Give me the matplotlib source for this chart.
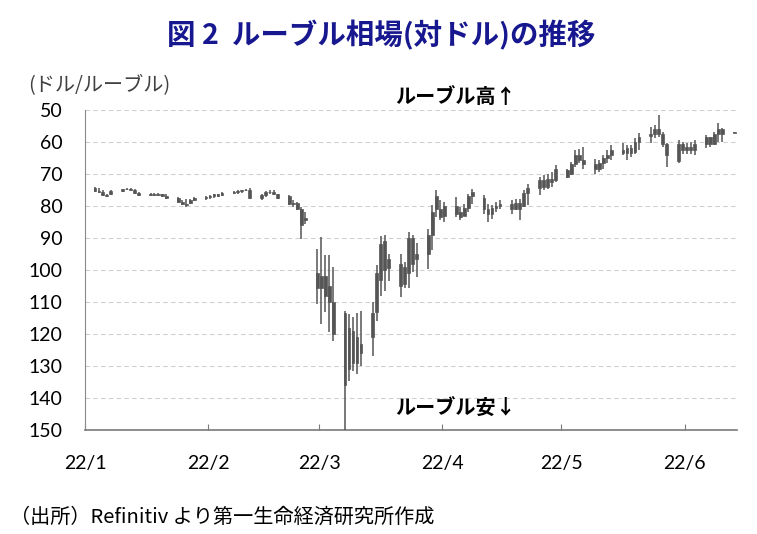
import matplotlib
matplotlib.use("Agg")
import matplotlib.pyplot as plt
import matplotlib.dates as mdates
import numpy as np
import pandas as pd

plt.rcParams['font.family'] = ['Noto Sans CJK JP', 'DejaVu Sans']

# 営業日 2022/1/3 - 2022/6/13 (週ごとに5本)
days = pd.bdate_range("2022-01-03", "2022-06-13")

# ドル/ルーブル 日足 (安値・高値・始値・終値)
low = [74.1, 74.4, 75.1, 76.1, 75.1,  74.6, 74.4, 74.4, 74.6, 75.6,
       75.8, 75.9, 75.9, 76.1, 76.4,  77.3, 78.2, 77.9, 77.7, 77.2,
       76.8, 76.6, 76.1, 76.1, 75.6,  75.3, 75.1, 74.9, 74.6, 74.4,
       76.1, 75.3, 75.1, 75.1, 76.1,  76.6, 78.2, 78.7, 80.3, 81.9,
       93.3, 89.7, 95.4, 95.4, 99.0,  112.7, 113.7, 114.8, 113.3, 112.7,
       110.1, 98.5, 89.5, 89.1, 94.9,  95.0, 97.5, 88.1, 89.1, 91.5,
       87.1, 79.8, 75.1, 78.2, 78.7,  77.2, 80.3, 79.3, 76.2, 74.6,
       76.7, 79.3, 79.8, 78.8, 78.2,  78.2, 77.7, 77.7, 75.1, 73.0,
       70.9, 70.4, 69.9, 69.4, 67.3,  68.3, 66.2, 62.6, 62.1, 61.5,
       65.2, 65.7, 64.1, 62.5, 61.0,  60.4, 61.0, 61.0, 58.9, 57.3,
       55.2, 54.7, 51.6, 56.8, 60.4,  59.4, 59.9, 60.4, 59.9, 59.4,
       57.8, 58.4, 56.8, 54.2, 55.7,  56.8]
high = [75.5, 75.9, 76.9, 77.3, 76.5,  75.6, 75.1, 75.3, 76.1, 76.9,
        76.8, 76.8, 76.8, 77.1, 77.9,  79.1, 79.8, 80.3, 79.3, 78.5,
        78.2, 77.9, 77.4, 77.1, 76.8,  76.3, 76.1, 75.9, 75.4, 77.9,
        78.2, 77.1, 76.1, 76.5, 77.9,  79.8, 80.3, 81.4, 90.2, 85.5,
        110.6, 116.9, 113.0, 119.5, 122.1,  150.5, 134.7, 131.5, 132.5, 130.0,
        127.0, 116.0, 108.0, 106.5, 103.3,  108.5, 105.5, 105.7, 100.5, 102.2,
        99.6, 93.9, 83.4, 84.5, 85.0,  83.4, 84.5, 83.0, 81.9, 79.3,
        82.4, 85.0, 84.0, 81.9, 80.8,  82.4, 81.4, 84.5, 80.3, 79.8,
        76.7, 75.1, 74.6, 74.1, 72.5,  71.4, 70.4, 67.8, 66.7, 68.3,
        69.9, 69.3, 68.3, 66.7, 65.7,  64.1, 65.7, 64.6, 63.6, 62.5,
        60.4, 58.9, 58.4, 61.5, 67.8,  66.7, 63.6, 63.6, 63.6, 64.1,
        62.0, 61.5, 61.0, 59.9, 59.9,  57.3]
open_ = [74.4, 75.2, 75.6, 76.6, 76.4,  75.4, 74.8, 74.6, 75.0, 75.9,
         76.5, 76.2, 76.6, 76.2, 76.8,  77.6, 78.9, 79.4, 79.2, 78.1,
         77.6, 77.3, 76.9, 76.4, 76.6,  75.9, 75.6, 75.3, 75.1, 74.9,
         77.4, 76.6, 75.7, 75.5, 76.2,  77.0, 79.4, 79.0, 80.8, 84.5,
         101.0, 105.5, 102.0, 105.0, 110.0,  113.5, 131.0, 119.0, 129.0, 123.0,
         121.0, 113.0, 103.0, 91.0, 99.5,  98.0, 104.5, 101.0, 90.0, 96.5,
         95.0, 89.0, 77.0, 81.0, 83.0,  80.0, 82.0, 83.0, 80.5, 77.0,
         77.5, 81.0, 82.5, 80.5, 80.0,  79.5, 81.0, 79.0, 80.0, 76.0,
         74.5, 72.0, 74.0, 71.5, 72.0,  68.8, 70.0, 67.0, 64.0, 65.5,
         67.0, 68.5, 66.5, 65.0, 64.0,  62.5, 63.5, 62.0, 63.0, 60.0,
         58.0, 57.5, 56.0, 57.5, 60.5,  66.0, 60.5, 62.5, 61.5, 62.5,
         60.5, 58.5, 60.5, 57.5, 56.0,  56.9]
close = [75.2, 75.6, 76.6, 76.9, 75.4,  74.8, 74.6, 75.0, 75.9, 76.5,
         76.2, 76.6, 76.2, 76.8, 77.6,  78.9, 79.4, 79.6, 78.1, 77.6,
         77.3, 76.9, 76.4, 76.8, 75.9,  75.6, 75.3, 75.1, 74.9, 77.4,
         76.6, 75.7, 75.5, 76.2, 77.5,  79.4, 79.0, 80.8, 86.0, 83.6,
         105.5, 102.0, 108.0, 110.0, 120.0,  136.0, 118.0, 129.0, 121.0, 126.0,
         113.5, 101.0, 92.0, 100.0, 96.5,  105.0, 99.0, 90.0, 98.0, 95.0,
         89.0, 82.0, 81.0, 83.5, 80.0,  82.5, 83.5, 80.5, 77.0, 75.5,
         81.0, 82.5, 80.5, 80.0, 79.5,  81.0, 79.0, 81.0, 76.0, 74.5,
         72.0, 74.0, 71.5, 72.5, 68.5,  70.8, 67.0, 64.0, 65.5, 67.0,
         68.5, 66.5, 65.0, 64.0, 62.5,  63.5, 62.0, 63.5, 60.0, 58.5,
         57.5, 56.0, 57.5, 60.5, 64.0,  60.5, 62.5, 61.5, 62.5, 60.5,
         58.5, 60.5, 57.5, 56.0, 57.5,  57.2]

month_ticks = ["2022-01-01", "2022-02-01", "2022-03-01", "2022-04-01", "2022-05-01", "2022-06-01"]
month_labels = ["22/1", "22/2", "22/3", "22/4", "22/5", "22/6"]
y_ticks = list(range(50, 151, 10))

bar_color = "#555555"

fig = plt.figure(figsize=(7.57, 5.34), dpi=100)
ax = fig.add_axes([85 / 757, 1 - 430 / 534, (737 - 85) / 757, (430 - 110) / 534])

x = mdates.date2num(days) + 0.5
o = np.array(open_)
c = np.array(close)
ax.vlines(x, low, high, color=bar_color, lw=1.1, zorder=3)
ax.bar(x, np.abs(c - o), bottom=np.minimum(o, c), width=0.7,
       color=bar_color, edgecolor=bar_color, linewidth=0.5, zorder=3)

# 軸
ax.set_ylim(150, 50)
ax.set_yticks(y_ticks)
ax.set_xlim(mdates.date2num(pd.Timestamp("2022-01-01")),
            mdates.date2num(pd.Timestamp("2022-01-01")) + 164.2)
ax.set_xticks(mdates.date2num(pd.to_datetime(month_ticks)))
ax.set_xticklabels(month_labels)

ax.yaxis.grid(True, ls=(0, (4, 3)), color="#d0d0d0", lw=0.8)
ax.set_axisbelow(True)
for s in ["top", "right"]:
    ax.spines[s].set_visible(False)
ax.spines["left"].set_color("#8a8a8a")
ax.spines["left"].set_linewidth(0.8)
ax.spines["bottom"].set_color("#7a7a7a")
ax.spines["bottom"].set_linewidth(1.2)

ax.tick_params(axis="y", length=0, pad=16, labelsize=14, labelfontfamily="Lato")
ax.tick_params(axis="x", direction="in", length=4, color="#7a7a7a", pad=18,
               labelsize=14, labelfontfamily="Lato")

# テキスト
fig.text(381 / 757, 1 - 35 / 534, "図 2  ルーブル相場(対ドル)の推移", ha="center", va="center",
         fontsize=20.5, fontweight="bold", color="#17178f")
fig.text(28 / 757, 1 - 85 / 534, "(ドル/ルーブル)", ha="left", va="center",
         fontsize=14.5, color="#404040")
fig.text(456 / 757, 1 - 97 / 534, "ルーブル高↑", ha="center", va="center",
         fontsize=14.5, fontweight="bold", color="black")
fig.text(456 / 757, 1 - 408 / 534, "ルーブル安↓", ha="center", va="center",
         fontsize=14.5, fontweight="bold", color="black")
fig.text(10 / 757, 1 - 517 / 534, "（出所）Refinitiv より第一生命経済研究所作成", ha="left", va="center",
         fontsize=14.5, color="black")

fig.savefig("out.png", dpi=100)
